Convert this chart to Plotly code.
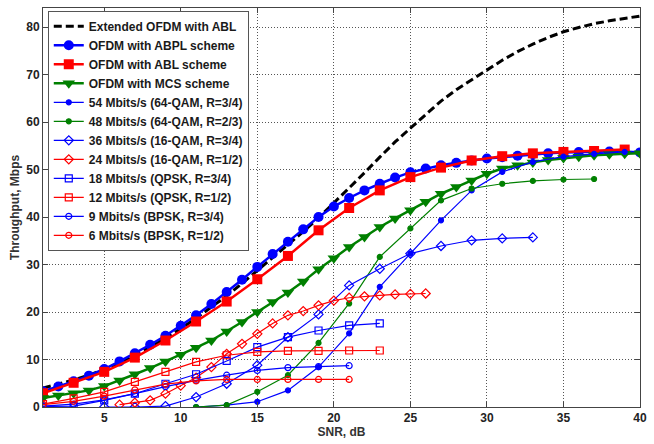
import plotly.graph_objects as go

# ---------------- data ----------------
snr_1db = list(range(1, 41))
snr_odd_to39 = list(range(1, 40, 2))

extended_abl = [4.0, 4.8, 5.7, 6.7, 7.9, 9.3, 10.9, 12.6, 14.5, 16.5,
                18.7, 21.0, 23.4, 26.0, 28.7, 31.4, 34.1, 36.9, 39.8, 42.9,
                46.0, 49.3, 52.6, 55.8, 58.7, 61.6, 64.4, 66.8, 68.9, 71.0,
                73.0, 74.8, 76.4, 77.8, 79.0, 79.9, 80.7, 81.3, 81.8, 82.3]

abpl = [3.3, 4.3, 5.4, 6.6, 8.0, 9.6, 11.3, 13.1, 15.0, 17.1,
        19.3, 21.7, 24.2, 26.8, 29.5, 32.2, 34.8, 37.4, 40.0, 42.2,
        44.0, 45.6, 47.0, 48.3, 49.4, 50.2, 50.9, 51.4, 51.9, 52.3,
        52.6, 52.9, 53.2, 53.4, 53.6, 53.7, 53.8, 53.8, 53.8, 53.6]

abl = [2.9, 5.1, 7.4, 10.4, 14.0, 18.0, 22.2, 26.9, 31.8, 37.2,
       41.9, 45.6, 48.4, 50.4, 51.9, 52.8, 53.4, 53.7, 53.9, 54.2]

mcs = [1.9, 2.4, 2.9, 3.5, 4.4, 5.6, 6.9, 8.2, 9.6, 11.0,
       12.5, 14.0, 15.9, 17.9, 20.0, 22.1, 24.1, 26.4, 29.0, 31.3,
       33.7, 35.8, 37.9, 39.7, 41.4, 43.2, 44.9, 46.3, 47.7, 49.1,
       50.2, 50.9, 51.5, 52.0, 52.4, 52.7, 53.0, 53.2, 53.3, 53.4]

snr_54 = list(range(11, 40, 2))
r54 = [0.0, 0.4, 1.1, 3.5, 8.4, 15.5, 25.3, 32.3, 39.3, 45.6, 49.5, 51.6, 52.7, 53.3, 53.7]

snr_48 = list(range(11, 38, 2))
r48 = [0.0, 0.4, 3.2, 6.7, 13.5, 21.8, 31.6, 37.6, 43.5, 46.0, 47.0, 47.6, 47.9, 48.0]

snr_36 = list(range(5, 34, 2))
r36 = [0.0, 0.0, 0.2, 2.1, 4.9, 8.8, 14.7, 19.5, 25.6, 29.1, 32.3, 33.9, 35.1, 35.5, 35.7]

snr_24 = list(range(6, 27))
r24 = [0.5, 0.9, 1.4, 2.8, 4.5, 6.2, 8.4, 11.2, 13.3, 15.4, 17.6,
       19.3, 20.2, 21.4, 22.4, 23.0, 23.3, 23.5, 23.7, 23.8, 23.9]

snr_18 = list(range(1, 24, 2))
r18 = [0.1, 0.2, 1.4, 2.8, 4.9, 6.9, 9.7, 12.6, 14.7, 16.1, 17.2, 17.6]

snr_12 = list(range(1, 24, 2))
r12 = [0.6, 1.8, 3.2, 5.3, 7.4, 9.5, 10.9, 11.6, 11.8, 11.8, 11.9, 11.9]

snr_9 = list(range(1, 22, 2))
r9 = [0.2, 0.6, 1.5, 2.8, 4.3, 5.6, 6.7, 7.7, 8.3, 8.5, 8.7]

snr_6 = list(range(1, 22, 2))
r6 = [0.5, 1.2, 2.3, 3.6, 4.8, 5.5, 5.8, 5.8, 5.8, 5.8, 5.8]

x_ticks = [5, 10, 15, 20, 25, 30, 35, 40]
y_ticks = [0, 10, 20, 30, 40, 50, 60, 70, 80]

BLUE = "#0000ff"
RED = "#ff0000"
GREEN = "#008000"
FONT = "Arial, Liberation Sans, sans-serif"

fig = go.Figure()

# Main curves
fig.add_trace(go.Scatter(x=snr_1db, y=extended_abl, mode="lines",
                         name="<b>Extended OFDM with ABL</b>",
                         line=dict(color="black", width=3, dash="8px,4px")))
fig.add_trace(go.Scatter(x=snr_1db, y=abpl, mode="lines+markers",
                         name="<b>OFDM with ABPL scheme</b>",
                         line=dict(color=BLUE, width=2.5),
                         marker=dict(symbol="circle", size=10, color=BLUE)))
fig.add_trace(go.Scatter(x=snr_odd_to39, y=abl, mode="lines+markers",
                         name="<b>OFDM with ABL scheme</b>",
                         line=dict(color=RED, width=2.5),
                         marker=dict(symbol="square", size=10, color=RED)))
fig.add_trace(go.Scatter(x=snr_1db, y=mcs, mode="lines+markers",
                         name="<b>OFDM with MCS scheme</b>",
                         line=dict(color=GREEN, width=2.5),
                         marker=dict(symbol="triangle-down", size=11, color=GREEN)))

# Individual MCS curves
thin = [
    (snr_54, r54, "54 Mbits/s (64-QAM, R=3/4)", BLUE, "circle", 5),
    (snr_48, r48, "48 Mbits/s (64-QAM, R=2/3)", GREEN, "circle", 5),
    (snr_36, r36, "36 Mbits/s (16-QAM, R=3/4)", BLUE, "diamond-open", 7),
    (snr_24, r24, "24 Mbits/s (16-QAM, R=1/2)", RED, "diamond-open", 7),
    (snr_18, r18, "18 Mbits/s (QPSK, R=3/4)", BLUE, "square-open", 7),
    (snr_12, r12, "12 Mbits/s (QPSK, R=1/2)", RED, "square-open", 7),
    (snr_9, r9, "9 Mbits/s (BPSK, R=3/4)", BLUE, "circle-open", 6),
    (snr_6, r6, "6 Mbits/s (BPSK, R=1/2)", RED, "circle-open", 6),
]
for xs, ys, name, col, sym, size in thin:
    fig.add_trace(go.Scatter(
        x=xs, y=ys, mode="lines+markers", name="<b>" + name + "</b>",
        line=dict(color=col, width=1.2),
        marker=dict(symbol=sym, size=size, color=col,
                    line=dict(color=col, width=1.2))))

axis_common = dict(
    showline=True, linecolor="#444444", linewidth=1, mirror="ticks",
    ticks="inside", ticklen=5, tickcolor="#444444",
    showgrid=True, gridcolor="#555555", gridwidth=1, griddash="1px,2px",
    zeroline=False,
    tickfont=dict(family=FONT, size=12, color="#222222", weight="bold"),
)

fig.update_xaxes(range=[1, 40], tickvals=x_ticks,
                 title=dict(text="<b>SNR, dB</b>", standoff=0,
                            font=dict(family=FONT, size=12, color="#333333")),
                 **axis_common)
fig.update_yaxes(range=[0, 84], tickvals=y_ticks,
                 title=dict(text="<b>Throughput, Mbps</b>", standoff=4,
                            font=dict(family=FONT, size=12, color="#333333")),
                 **axis_common)

fig.update_layout(
    width=654, height=444,
    margin=dict(l=43, r=8, t=7, b=37),
    paper_bgcolor="white", plot_bgcolor="white",
    font=dict(family=FONT, color="#222222"),
    showlegend=True,
    legend=dict(x=0.008, y=0.993, xanchor="left", yanchor="top",
                bgcolor="white", bordercolor="#555555", borderwidth=1,
                font=dict(family=FONT, size=12, color="#1a1a1a"),
                itemwidth=30, tracegroupgap=0),
)

fig.write_html("out.html", config={"displayModeBar": False},
               post_script="document.body.style.margin='0';")
